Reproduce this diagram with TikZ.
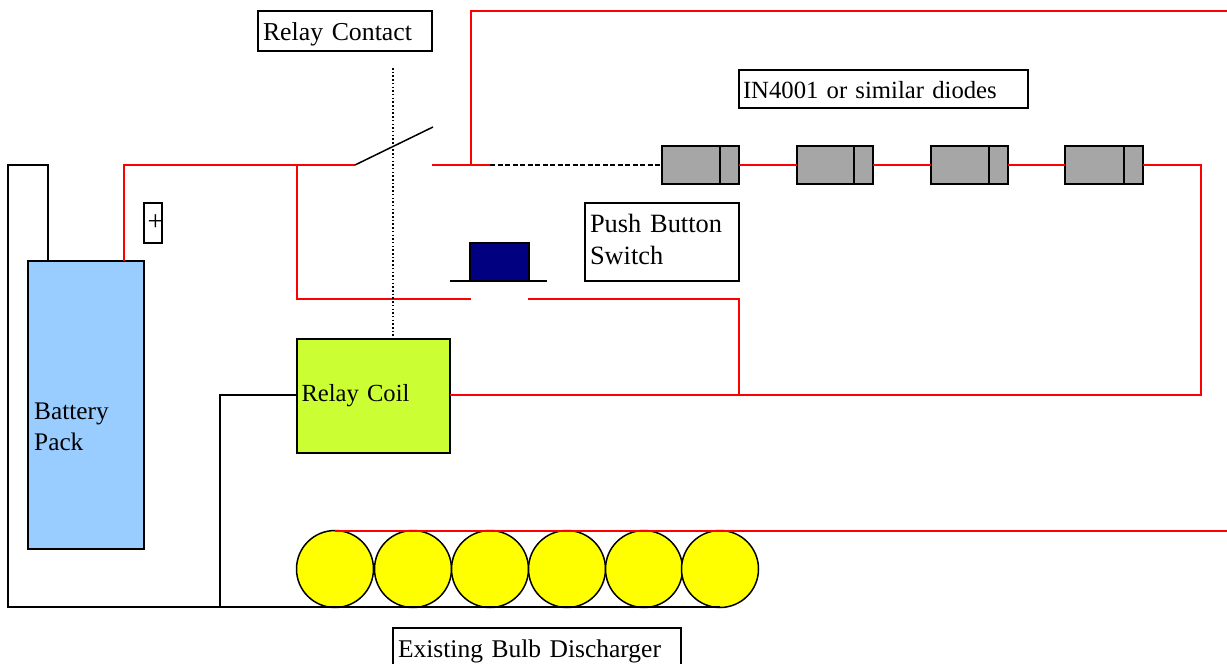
\documentclass[tikz,border=0pt]{standalone}
\usepackage{fontspec}
\setmainfont{Liberation Serif}
\definecolor{batteryblue}{HTML}{99CCFF}
\definecolor{coilgreen}{HTML}{CCFF33}
\definecolor{buttonblue}{HTML}{000080}
\definecolor{diodegrey}{HTML}{A6A6A6}
\definecolor{bulbyellow}{HTML}{FFFF00}
\definecolor{wirered}{HTML}{FF0000}
\tikzset{
    wire/.style = {draw = wirered, line width = 1.5pt},
    blackwire/.style = {draw = black, line width = 1.5pt},
    part/.style = {shape = rectangle, draw, line width = 1.5pt, inner sep = 0pt, outer sep = 0pt},
    textbox/.style = {part, fill = white, align = left, inner xsep = 5pt, anchor = west},
    diode/.style = {part, fill = diodegrey, minimum height = 38pt},
    bulb/.style = {shape = circle, draw, line width = 1.5pt, outer sep = 0pt, fill = bulbyellow, minimum size = 77pt, inner sep = 0pt}
}
\newcommand{\sized}[1]{\fontsize{#1}{31.5}\selectfont}
\begin{document}
\begin{tikzpicture}[x = 1pt, y = -1pt]
    \useasboundingbox (0,0) rectangle (1227,664);
    % parts
    \node [part, fill = batteryblue, minimum width = 116pt, minimum height = 288pt] (Battery) at (86,405) {};
    \node [align = left, anchor = west, inner sep = 0pt, font = \sized{25.3}] (BatteryText) at (34,427) {Battery\\Pack};
    \node [part, fill = coilgreen, minimum width = 153pt, minimum height = 114pt, align = left, text width = 144pt, font = \sized{24.6}] (Coil) at (373.5,396) {Relay Coil};
    \node [part, fill = buttonblue, minimum width = 59pt, minimum height = 38pt] (Button) at (499.5,262) {};
    \node [part, minimum width = 18pt, minimum height = 40pt, font = \sized{28}] (Plus) at (153,223) {\makebox[0pt]{\hspace{5pt}\raisebox{-13pt}{+}}};
    \node [textbox, minimum width = 174pt, minimum height = 40pt, text width = 164pt, text height = 25pt, font = \sized{25.8}] (ContactLabel) at (258,31) {Relay Contact};
    \node [textbox, minimum width = 289pt, minimum height = 38pt, text width = 281pt, inner xsep = 4pt, text height = 19pt, font = \sized{24.7}] (DiodeLabel) at (739,89) {IN4001 or similar diodes};
    \node [textbox, minimum width = 154pt, minimum height = 78pt, text width = 144pt, text depth = 37pt, font = \sized{26.4}] (ButtonLabel) at (585,242) {Push Button\\Switch};
    \node [textbox, minimum width = 288pt, minimum height = 44pt, text width = 278pt, text height = 21pt, font = \sized{25.5}] (BulbLabel) at (393,650) {Existing Bulb Discharger};
    \foreach \i/\x/\w in {1/700.5/77, 2/835/76, 3/969.5/77, 4/1104/78} {
        \node [diode, minimum width = \w pt] (D\i) at (\x,165) {};
        \draw [blackwire] ([xshift = -19pt]D\i.north east) -- ([xshift = -19pt]D\i.south east);
    }
    \foreach \i/\x in {1/335, 2/413, 3/490, 4/567, 5/644, 6/720} {
        \node [bulb] (B\i) at (\x,569) {};
    }
    % points on the wires
    \coordinate (SwitchL) at (355,165);
    \coordinate (SwitchT) at (433,127);
    \coordinate (SwitchR) at (432,165);
    \coordinate (TapL) at (297,165);
    \coordinate (TapR) at (471,165);
    \coordinate (DashStart) at (490,165);
    \coordinate (ButtonL) at (471,299);
    \coordinate (ButtonR) at (528,299);
    \coordinate (TopEnd) at (1227,11);
    \coordinate (BulbEnd) at (1227,531);
    \coordinate (CoilRow) at (1201,395);
    \coordinate (Bottom) at (8,607);
    \coordinate (BatNeg) at (48,261);
    \coordinate (BatPos) at (124,261);
    % red wires
    \draw [wire] (BatPos) -- (124,165) -- (SwitchL);
    \draw [wire] (TapL) -- (ButtonL -| TapL) -- (ButtonL);
    \draw [wire] (ButtonR) -- (739,299) -- (739,395);
    \draw [wire] (Coil.east |- CoilRow) -- (CoilRow) -- (1201,165) -- (D4.east);
    \draw [wire] (SwitchR) -- (DashStart);
    \draw [wire] (TapR) -- (TapR |- TopEnd) -- (TopEnd);
    \draw [wire] (D1.east) -- (D2.west);
    \draw [wire] (D2.east) -- (D3.west);
    \draw [wire] (D3.east) -- (D4.west);
    % black wires
    \draw [blackwire] (SwitchL) -- (SwitchT);
    \draw [blackwire] (BatNeg) -- (48,165) -- (8,165) -- (Bottom) -- (Bottom -| B6);
    \draw [blackwire] (Coil.west |- CoilRow) -- (220,395) -- (220,607) -- (240,607);
    \draw [blackwire] (450,281) -- (Button.south west) -- (Button.south east) -- (547,281);
    \draw [blackwire, dash pattern = on 5pt off 2.5pt] (DashStart) -- (D1.west);
    \draw [line width = 1.5pt, dash pattern = on 1.5pt off 2.2pt] (393,68) -- (Coil.north -| 393,68);
    \draw [wire] (B1.north |- BulbEnd) -- (BulbEnd);
\end{tikzpicture}
\end{document}
